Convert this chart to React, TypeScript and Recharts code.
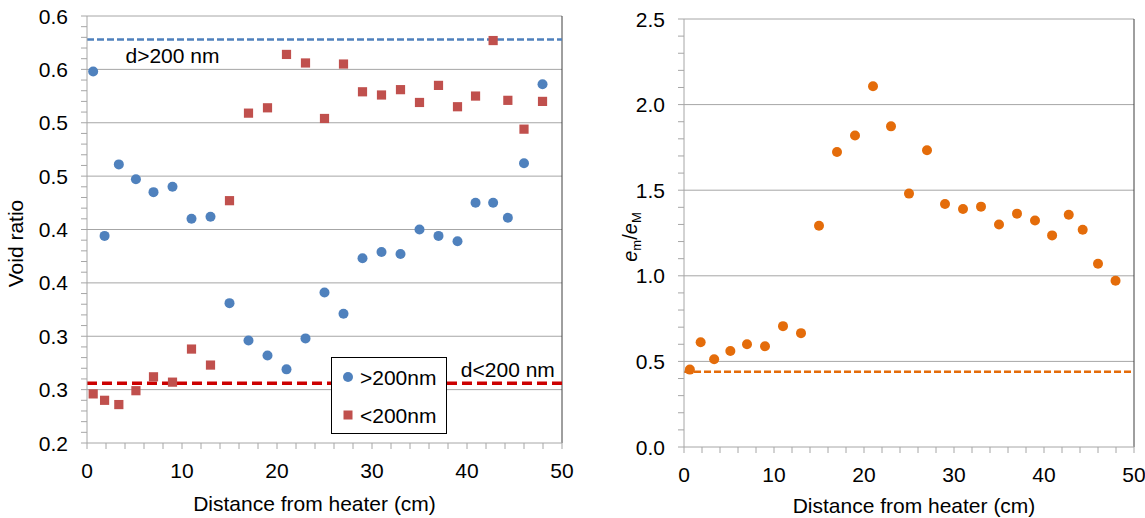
import React from "react";
import { ScatterChart, Scatter, XAxis, YAxis, ReferenceLine, ReferenceDot } from "recharts";

// sampling positions along the column (cm from heater)
const distance = [
  0.65, 1.85, 3.35, 5.15, 7, 9, 11, 13, 15, 17, 19, 21, 23, 25, 27, 29, 31, 33, 35, 37, 39, 40.9,
  42.75, 44.3, 46, 47.95,
];

// void ratio of pores > 200 nm
const voidLarge = [
  0.548, 0.394, 0.461, 0.447, 0.435, 0.44, 0.41, 0.412, 0.331, 0.296, 0.282, 0.269, 0.298, 0.341,
  0.321, 0.373, 0.379, 0.377, 0.4, 0.394, 0.389, 0.425, 0.425, 0.411, 0.462, 0.536,
];

// void ratio of pores < 200 nm
const voidSmall = [
  0.246, 0.24, 0.236, 0.249, 0.262, 0.257, 0.288, 0.273, 0.427, 0.509, 0.514, 0.564, 0.556, 0.504,
  0.555, 0.529, 0.526, 0.531, 0.519, 0.535, 0.515, 0.525, 0.577, 0.521, 0.494, 0.52,
];

// micro / macro void ratio
const ratioEm = [
  0.452, 0.612, 0.513, 0.561, 0.6, 0.589, 0.706, 0.665, 1.292, 1.723, 1.82, 2.107, 1.873, 1.48,
  1.733, 1.419, 1.39, 1.404, 1.3, 1.363, 1.323, 1.236, 1.357, 1.269, 1.07, 0.971,
];

// initial values (dashed lines)
const voidLargeInit = 0.578;
const voidSmallInit = 0.256;
const ratioInit = 0.44;

const voidTicks = [0.2, 0.25, 0.3, 0.35, 0.4, 0.45, 0.5, 0.55, 0.6];
const voidTickLabels = ["0.2", "0.3", "0.3", "0.4", "0.4", "0.5", "0.5", "0.6", "0.6"];
const ratioTicks = [0, 0.5, 1, 1.5, 2, 2.5];
const ratioTickLabels = ["0.0", "0.5", "1.0", "1.5", "2.0", "2.5"];
const distTicks = [0, 10, 20, 30, 40, 50];
const distTickLabels = ["0", "10", "20", "30", "40", "50"];

const BLUE = "#4f81bd";
const RED = "#c0504d";
const ORANGE = "#e46c0a";
const GRID = "#a6a6a6";
const FONT = "'Liberation Sans', Arial, sans-serif";
const FS = 21;

function steps(from: number, to: number, step: number) {
  const out: number[] = [];
  const n = Math.round((to - from) / step);
  for (let i = 0; i <= n; i++) out.push(Number((from + i * step).toFixed(4)));
  return out;
}

const toPoints = (ys: number[]) => distance.map((x, i) => ({ x, y: ys[i] }));

// only major ticks get a label, minor ones are just a tick line
// eslint-disable-next-line @typescript-eslint/no-explicit-any
function YTick({ x, y, payload, majors, labels }: any) {
  const i = majors.findIndex((m: number) => Math.abs(m - payload.value) < 1e-6);
  if (i < 0) return <g />;
  return (
    <text x={x} y={y} dy="0.36em" textAnchor="end" fontSize={FS} fill="#000">
      {labels[i]}
    </text>
  );
}

// eslint-disable-next-line @typescript-eslint/no-explicit-any
function XTick({ x, y, payload }: any) {
  const i = distTicks.findIndex((m) => Math.abs(m - payload.value) < 1e-6);
  if (i < 0) return <g />;
  return (
    <text x={x} y={y} dy="0.71em" textAnchor="middle" fontSize={FS} fill="#000">
      {distTickLabels[i]}
    </text>
  );
}

// eslint-disable-next-line @typescript-eslint/no-explicit-any
function XTitle({ viewBox, shift, drop }: any) {
  return (
    <text
      x={viewBox.x + viewBox.width / 2 + shift}
      y={viewBox.y + drop}
      textAnchor="middle"
      fontSize={FS}
      fill="#000"
    >
      Distance from heater (cm)
    </text>
  );
}

// eslint-disable-next-line @typescript-eslint/no-explicit-any
function VoidTitle({ viewBox }: any) {
  const cx = viewBox.x + 15;
  const cy = viewBox.y + viewBox.height / 2 + 14;
  return (
    <text
      x={cx}
      y={cy}
      dy="0.36em"
      transform={`rotate(-90 ${cx} ${cy})`}
      textAnchor="middle"
      fontSize={FS}
      fill="#000"
    >
      Void ratio
    </text>
  );
}

// eslint-disable-next-line @typescript-eslint/no-explicit-any
function RatioTitle({ viewBox }: any) {
  const cx = viewBox.x + 50;
  const cy = viewBox.y + viewBox.height / 2 + 4;
  return (
    <text
      x={cx}
      y={cy}
      dy="0.36em"
      transform={`rotate(-90 ${cx} ${cy})`}
      textAnchor="middle"
      fontSize={20}
      fill="#000"
    >
      <tspan fontStyle="italic">e</tspan>
      <tspan fontSize={13} dy={4}>m</tspan>
      <tspan dy={-4}>/</tspan>
      <tspan fontStyle="italic">e</tspan>
      <tspan fontSize={13} dy={4}>M</tspan>
    </text>
  );
}

// eslint-disable-next-line @typescript-eslint/no-explicit-any
const circle = (color: string) => (p: any) => <circle cx={p.cx} cy={p.cy} r={5} fill={color} />;
// eslint-disable-next-line @typescript-eslint/no-explicit-any
const square = (color: string) => (p: any) => (
  <rect x={p.cx - 4.6} y={p.cy - 4.6} width={9.2} height={9.2} fill={color} />
);

function VoidChart() {
  return (
    <ScatterChart width={580} height={518} margin={{ top: 16, right: 18, left: 0, bottom: 45 }}>
      <XAxis
        type="number"
        dataKey="x"
        domain={[0, 50]}
        ticks={steps(0, 50, 2)}
        interval={0}
        tickSize={6}
        tickMargin={14}
        height={30}
        stroke={GRID}
        tick={<XTick />}
        label={<XTitle shift={-10} drop={68} />}
      />
      <YAxis
        type="number"
        dataKey="y"
        domain={[0.2, 0.6]}
        ticks={steps(0.2, 0.6, 0.01)}
        interval={0}
        tickSize={6}
        tickMargin={13}
        width={87}
        stroke={GRID}
        tick={<YTick majors={voidTicks} labels={voidTickLabels} />}
        label={<VoidTitle />}
      />
      {voidTicks.slice(1).map((v) => (
        <ReferenceLine key={v} y={v} stroke={GRID} />
      ))}
      <ReferenceLine x={50} stroke="#3f3f3f" />
      <ReferenceLine y={voidLargeInit} stroke={BLUE} strokeWidth={2.5} strokeDasharray="7 3" />
      <ReferenceLine y={voidSmallInit} stroke="#cc0000" strokeWidth={3.5} strokeDasharray="10 5" />
      <ReferenceDot
        x={9}
        y={0.563}
        r={0}
        label={{ value: "d>200 nm", position: "center", fontSize: FS, fill: "#000" }}
      />
      <ReferenceDot
        x={44.3}
        y={0.269}
        r={0}
        label={{ value: "d<200 nm", position: "center", fontSize: FS, fill: "#000" }}
      />
      <Scatter name=">200nm" data={toPoints(voidLarge)} shape={circle(BLUE)} isAnimationActive={false} />
      <Scatter name="<200nm" data={toPoints(voidSmall)} shape={square(RED)} isAnimationActive={false} />
    </ScatterChart>
  );
}

function RatioChart() {
  return (
    <ScatterChart width={565} height={518} margin={{ top: 19, right: 11, left: 0, bottom: 41 }}>
      <XAxis
        type="number"
        dataKey="x"
        domain={[0, 50]}
        ticks={steps(0, 50, 2)}
        interval={0}
        tickSize={6}
        tickMargin={14}
        height={30}
        stroke={GRID}
        tick={<XTick />}
        label={<XTitle shift={5} drop={66} />}
      />
      <YAxis
        type="number"
        dataKey="y"
        domain={[0, 2.5]}
        ticks={steps(0, 2.5, 0.1)}
        interval={0}
        tickSize={6}
        tickMargin={13}
        width={104}
        stroke={GRID}
        tick={<YTick majors={ratioTicks} labels={ratioTickLabels} />}
        label={<RatioTitle />}
      />
      {ratioTicks.slice(1).map((v) => (
        <ReferenceLine key={v} y={v} stroke={GRID} />
      ))}
      <ReferenceLine x={50} stroke="#3f3f3f" />
      <ReferenceLine y={ratioInit} stroke={ORANGE} strokeWidth={2.5} strokeDasharray="7 3" />
      <Scatter name="em/eM" data={toPoints(ratioEm)} shape={circle(ORANGE)} isAnimationActive={false} />
    </ScatterChart>
  );
}

function VoidLegend() {
  return (
    <svg width={117} height={78} style={{ position: "absolute", left: 331, top: 357 }}>
      <rect x={0.5} y={0.5} width={115} height={76} fill="#fff" stroke="#000" />
      <circle cx={17} cy={20} r={5} fill={BLUE} />
      <text x={29} y={20} dy="0.36em" fontSize={FS} fill="#000">
        &gt;200nm
      </text>
      <rect x={12.5} y={53.5} width={9} height={9} fill={RED} />
      <text x={29} y={58} dy="0.36em" fontSize={FS} fill="#000">
        &lt;200nm
      </text>
    </svg>
  );
}

export default function App() {
  return (
    <div
      style={{
        position: "absolute",
        left: 0,
        top: 0,
        width: 1145,
        height: 518,
        background: "#fff",
        fontFamily: FONT,
      }}
    >
      <div style={{ position: "absolute", left: 0, top: 0 }}>
        <VoidChart />
      </div>
      <VoidLegend />
      <div style={{ position: "absolute", left: 580, top: 0 }}>
        <RatioChart />
      </div>
    </div>
  );
}
